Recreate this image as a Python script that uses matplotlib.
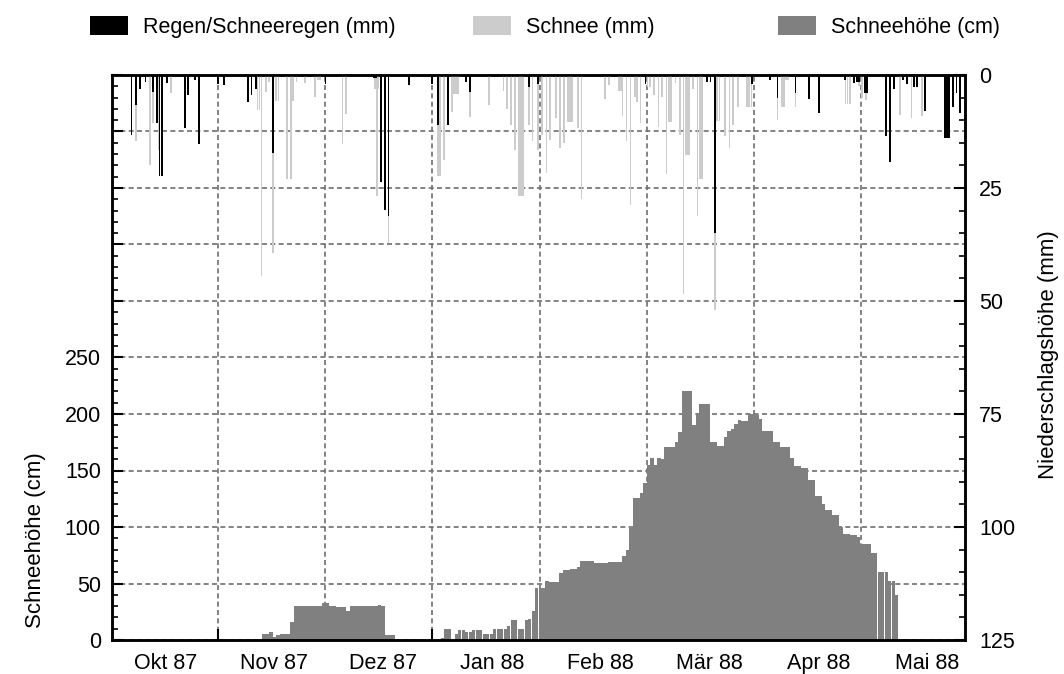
import matplotlib.pyplot as plt
import numpy as np
from matplotlib.patches import Patch
from matplotlib.ticker import MultipleLocator, FixedLocator, FuncFormatter

plt.rcParams['font.family'] = ['Liberation Sans', 'DejaVu Sans']
plt.rcParams['font.size'] = 15.5

# Saison 1987/88, Tag 0 = 1. Oktober 1987
monate = ["Okt 87", "Nov 87", "Dez 87", "Jan 88", "Feb 88", "Mär 88", "Apr 88", "Mai 88"]
saison_tage = 244

# Schneehöhe (cm), Tageswerte
hoehe1_start = 43
hoehe1_cm = [5, 5, 7, 3, 4, 5, 5, 5, 16, 30, 30, 30, 30, 30, 30, 30, 30, 33, 33,
             30, 30, 29, 29, 29, 26, 30, 30, 30, 30, 30, 30, 30, 30, 31, 30, 4, 4, 4]

hoehe2_start = 94
hoehe2_cm = [1.5, 10, 10, 0, 5, 9, 9, 7, 7, 9, 9, 9, 5, 5, 5, 10, 10, 10, 10, 12,
             18, 18, 10, 10, 18, 19, 26, 46, 46, 46, 52, 51, 51, 51, 59, 62, 62, 63, 63, 65,
             70, 70, 70, 70, 68, 68, 68, 68, 69, 69, 69, 69, 74, 80, 99, 126, 126, 130, 139, 155,
             161, 155, 161, 160, 171, 171, 171, 175, 184, 220, 220, 220, 190, 201, 209, 209, 209, 175,
             175, 172, 172, 180, 185, 187, 191, 195, 194, 194, 200, 200, 199, 196, 185, 185, 185, 175,
             175, 171, 171, 171, 161, 154, 154, 152, 152, 142, 142, 127, 127, 120, 115, 115, 111, 111,
             100, 94, 94, 93, 93, 91, 85, 85, 85, 77, 77, 60, 60, 60, 52, 52, 40]

# Niederschlag (mm), Messungen je halber Tag
regen_tag = [5.6, 6.8, 8.0, 9.6, 11.8, 12.9, 13.6, 14.3, 15.8, 20.9, 21.8, 23.7, 24.9,
             30.4, 32.0, 38.8, 39.9, 41.1, 46.1, 61.1, 74.9, 75.5, 76.9, 78.0, 79.1, 85.0,
             91.6, 93.3, 96.2, 101.2, 102.4, 119.3, 121.9, 152.6, 170.2, 171.2, 172.5,
             183.0, 188.2, 190.4, 195.5, 199.4, 202.2, 209.6, 212.3, 213.0, 213.6, 215.3,
             215.9, 221.4, 222.5, 223.6, 226.3, 227.5, 229.4, 230.3, 232.5, 238.2, 238.8,
             239.4, 240.6, 241.6, 242.5]
regen_mm = [13.3, 6.6, 3.0, 1.5, 3.7, 10.7, 22.3, 22.3, 1.8, 11.8, 4.4, 1.0, 15.3,
            2.0, 2.2, 5.9, 4.4, 3.2, 17.2, 2.0, 0.7, 0.7, 23.6, 29.9, 31.3, 2.2,
            2.0, 11.1, 11.1, 1.5, 3.7, 2.7, 2.0, 2.0, 1.5, 1.5, 35.0,
            2.0, 1.0, 5.0, 4.0, 5.4, 8.3, 1.0, 1.8, 1.6, 1.6, 4.0,
            4.0, 13.5, 19.2, 3.0, 1.1, 2.0, 2.6, 2.6, 8.0, 14.0, 14.0,
            14.0, 7.0, 4.0, 8.5]

schnee_tag = [6.8, 10.9, 11.8, 13.5, 16.9, 41.6, 42.2, 42.8, 44.0, 45.0, 46.1, 47.0, 47.6,
              50.1, 51.2, 51.7, 52.8, 55.2, 58.0, 59.0, 59.6, 65.9, 66.9, 75.2, 75.7, 76.2,
              79.1, 93.3, 93.8, 94.9, 97.2, 97.8, 98.4, 99.0, 102.4, 107.9, 112.0, 113.0,
              114.1, 115.3, 116.4, 117.0, 117.6, 119.3, 120.3, 121.9, 122.9, 124.3, 125.3,
              127.0, 128.1, 129.3, 130.5, 131.1, 131.6, 133.2, 134.3, 141.0, 142.1, 145.0,
              145.5, 146.0, 147.2, 148.3, 149.6, 150.1, 151.2, 153.2, 153.8, 155.1, 156.3,
              157.4, 158.6, 159.3, 159.9, 161.2, 162.5, 163.5, 164.1, 164.7, 165.2, 166.3,
              167.5, 168.1, 168.7, 172.5, 173.1, 173.8, 175.3, 176.6, 177.7, 179.1, 181.7,
              182.3, 182.9, 190.4, 191.6, 192.2, 192.8, 193.3, 195.5, 209.8, 210.4, 211.0,
              213.6, 214.6, 215.6, 225.3, 228.7, 231.6]
schnee_mm = [14.7, 20.0, 10.7, 16.6, 4.0, 7.7, 7.7, 44.5, 3.7, 1.5, 39.3, 5.7, 5.7,
             22.9, 22.9, 5.7, 1.5, 1.8, 4.8, 1.0, 1.0, 15.3, 8.7, 3.0, 26.8, 3.0,
             37.2, 22.3, 22.3, 18.8, 8.1, 4.3, 4.3, 4.3, 9.2, 6.6, 3.5, 7.6,
             11.1, 16.6, 26.8, 26.8, 26.8, 11.1, 14.7, 16.6, 13.3, 21.6, 14.4,
             9.6, 16.2, 15.1, 10.3, 10.3, 10.5, 11.8, 27.5, 5.4, 2.2, 3.5,
             3.5, 9.1, 14.7, 28.8, 4.8, 5.9, 10.7, 2.6, 2.6, 4.4, 11.4,
             4.8, 21.9, 10.5, 10.5, 1.8, 13.3, 48.5, 17.6, 17.6, 17.6, 3.0,
             31.2, 22.9, 22.9, 52.1, 10.2, 10.2, 13.6, 16.2, 11.1, 7.0, 7.0,
             7.0, 7.0, 10.0, 7.0, 7.0, 1.0, 1.0, 7.0, 6.5, 6.5, 6.5,
             2.4, 5.0, 5.6, 8.8, 9.6, 9.0]

farbe_regen = "#000000"
farbe_schnee = "#cccccc"
farbe_hoehe = "#808080"
gitter = "#6e6e6e"

fig = plt.figure(figsize=(10.64, 6.74), dpi=100)
ax = fig.add_axes([112 / 1064, 34 / 674, 853 / 1064, 565 / 674])

# Schneehöhe auf der linken Achse
for start, werte in [(hoehe1_start, hoehe1_cm), (hoehe2_start, hoehe2_cm)]:
    tage = start + np.arange(len(werte))
    ax.bar(tage, werte, width=0.97, align="edge", color=farbe_hoehe, linewidth=0)

ax.set_xlim(0, saison_tage)
ax.set_ylim(0, 500)
ax.set_axisbelow(True)

# Monatsgrenzen als Striche/Gitter, Monatsnamen dazwischen
ax.xaxis.set_minor_locator(FixedLocator(np.linspace(30.4, 214.2, 7)))
ax.xaxis.set_major_locator(FixedLocator(np.linspace(15.2, 233.3, 8)))
ax.set_xticklabels(monate)
for lbl in ax.get_xticklabels():
    lbl.set_verticalalignment("baseline")
ax.tick_params(axis="x", which="major", length=0, pad=21)
ax.tick_params(axis="x", which="minor", direction="in", length=8, width=1.5)

ax.yaxis.set_major_locator(MultipleLocator(50))
ax.yaxis.set_minor_locator(MultipleLocator(10))
ax.yaxis.set_major_formatter(FuncFormatter(lambda v, p: f"{v:.0f}" if v <= 250 else ""))
ax.tick_params(axis="y", which="major", direction="in", length=8, width=1.5, pad=8)
ax.tick_params(axis="y", which="minor", direction="in", length=4, width=1.2)

ax.grid(True, which="minor", axis="x", color=gitter, linestyle=(0, (3, 2)), linewidth=1.2)
ax.grid(True, which="major", axis="y", color=gitter, linestyle=(0, (3, 2)), linewidth=1.2)
ax.set_ylabel("Schneehöhe (cm)", fontsize=16)
ax.yaxis.set_label_coords(-0.077, 0.177)

# Niederschlag auf der rechten, umgekehrten Achse
ax2 = ax.twinx()
ax2.bar(schnee_tag, schnee_mm, width=0.5, color=farbe_schnee, linewidth=0)
ax2.bar(regen_tag, regen_mm, width=0.5, color=farbe_regen, linewidth=0)
ax2.set_ylim(125, 0)
ax2.yaxis.set_major_locator(MultipleLocator(25))
ax2.yaxis.set_minor_locator(MultipleLocator(5))
ax2.tick_params(axis="y", which="major", direction="in", length=8, width=1.5, pad=10)
ax2.tick_params(axis="y", which="minor", direction="in", length=4, width=1.2)
ax2.set_ylabel("Niederschlagshöhe (mm)", fontsize=16)
ax2.yaxis.set_label_coords(1.085, 0.505)

for a in (ax, ax2):
    for s in a.spines.values():
        s.set_linewidth(1.8)

# Legende oben, drei Einträge
eintraege = [("Regen/Schneeregen (mm)", farbe_regen, 90),
             ("Schnee (mm)", farbe_schnee, 473),
             ("Schneehöhe (cm)", farbe_hoehe, 778)]
for text, farbe, x in eintraege:
    fig.legend(handles=[Patch(facecolor=farbe, edgecolor="none", label=text)],
               loc="center left", bbox_to_anchor=(x / 1064, 1 - 27 / 674),
               frameon=False, borderpad=0, borderaxespad=0,
               handlelength=1.75, handleheight=0.95, handletextpad=0.7)

fig.savefig("out.png", dpi=100)
